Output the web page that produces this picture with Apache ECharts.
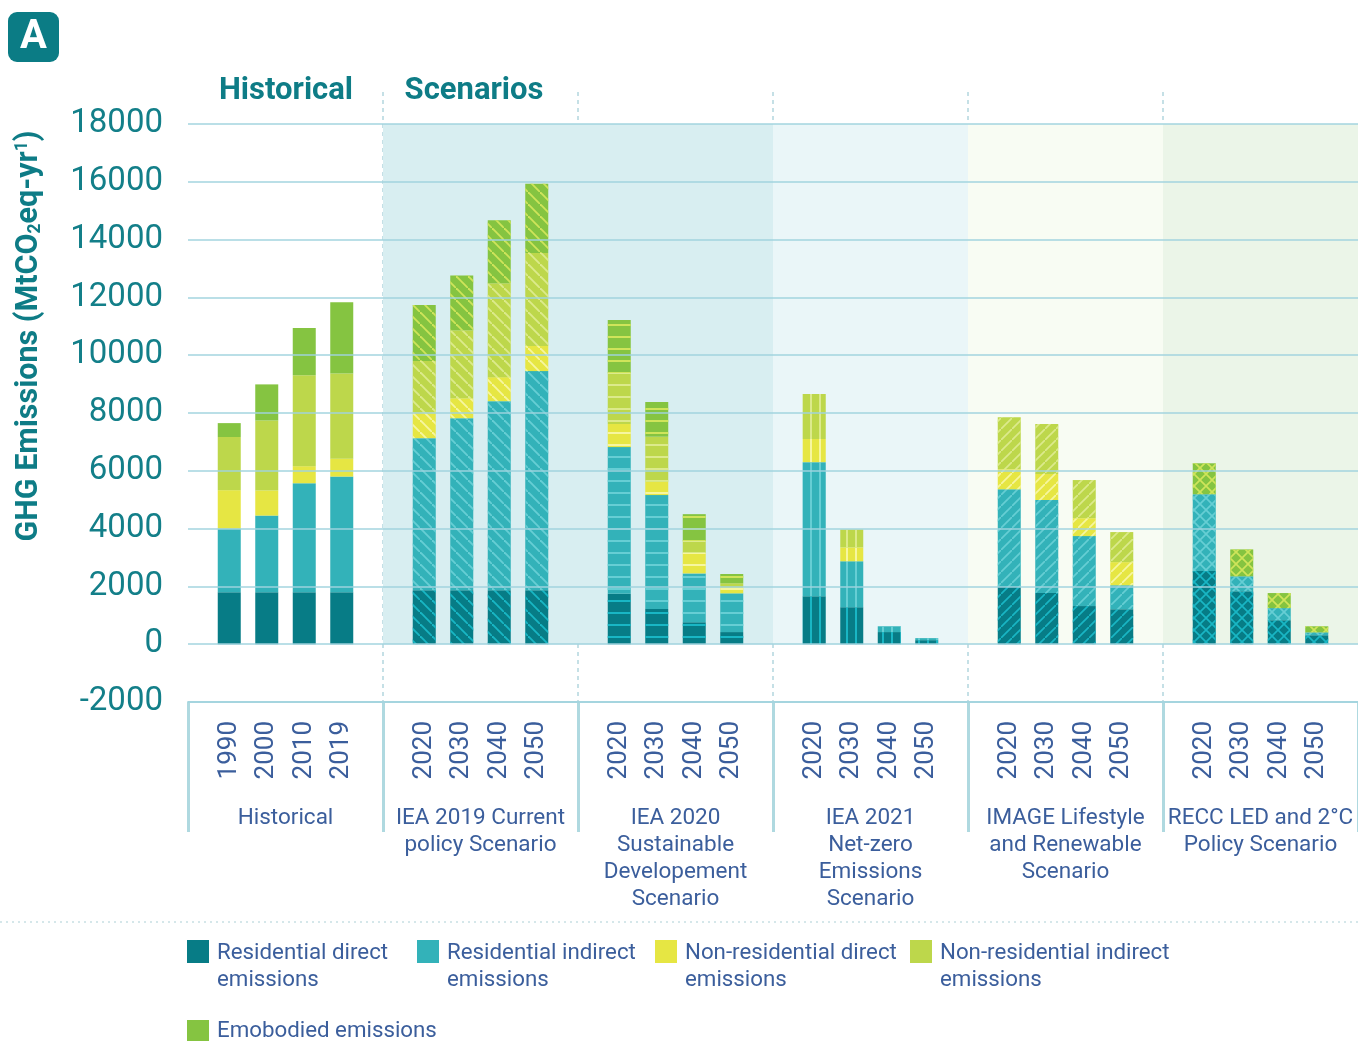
<!DOCTYPE html>
<html><head><meta charset="utf-8">
<script src="https://cdn.jsdelivr.net/npm/echarts@6/dist/echarts.min.js"></script>
<style>html,body{margin:0;padding:0;background:#fff}#c{width:1358px;height:1041px}</style>
</head><body><div id="c"></div>
<script>
// ---------------- DATA ----------------
const groupNames = ['Historical', 'IEA 2019 Current\npolicy Scenario', 'IEA 2020\nSustainable\nDevelopement\nScenario',
  'IEA 2021\nNet-zero\nEmissions\nScenario', 'IMAGE Lifestyle\nand Renewable\nScenario', 'RECC LED and 2°C\nPolicy Scenario'];
const yearsHistorical = ['1990', '2000', '2010', '2019'];
const yearsScenario = ['2020', '2030', '2040', '2050'];
const seriesNames = ['Residential direct emissions', 'Residential indirect emissions', 'Non-residential direct emissions',
  'Non-residential indirect emissions', 'Emobodied emissions'];
const legendLabels = ['Residential direct\nemissions', 'Residential indirect\nemissions', 'Non-residential direct\nemissions',
  'Non-residential indirect\nemissions', 'Emobodied emissions'];

// values per group (Historical, IEA2019, IEA2020, IEA2021, IMAGE, RECC), 4 years each
const residentialDirect = [
  [1800, 1800, 1800, 1800], [1870, 1870, 1870, 1870], [1750, 1220, 760, 420],
  [1660, 1280, 420, 140], [1980, 1770, 1320, 1210], [2530, 1830, 830, 310]];
const residentialIndirect = [
  [2200, 2650, 3770, 4000], [5260, 5950, 6540, 7580], [5070, 3940, 1690, 1340],
  [4640, 1590, 200, 70], [3380, 3220, 2420, 830], [2660, 520, 420, 100]];
const nonResidentialDirect = [
  [1330, 870, 590, 620], [900, 690, 830, 870], [800, 460, 710, 210],
  [800, 480, 0, 0], [690, 900, 620, 800], [0, 0, 0, 0]];
const nonResidentialIndirect = [
  [1840, 2420, 3150, 2950], [1770, 2350, 3250, 3220], [1760, 1560, 410, 140],
  [1560, 620, 0, 0], [1800, 1730, 1320, 1040], [0, 0, 0, 0]];
const embodied = [
  [480, 1250, 1630, 2460], [1940, 1900, 2180, 2390], [1840, 1200, 930, 320],
  [0, 0, 0, 0], [0, 0, 0, 0], [1070, 930, 520, 210]];

// ---------------- STYLE ----------------
const allSeries = [residentialDirect, residentialIndirect, nonResidentialDirect, nonResidentialIndirect, embodied];
const colors = ['#077c86', '#33b2b9', '#e6e643', '#bdd74b', '#85c441'];
const decalColors = ['#19b6c4', '#66ced4', '#f6f6a0', '#dcea8c', '#cfe45a'];
const bandColors = [null, '#d8eef1', '#d8eef1', '#eaf6f8', '#f8fcf3', '#ebf5e8'];
const textBlue = '#3b5e9c';
const teal = '#0e7c86';
const FONT = 'Roboto';

const Y_MIN = -2000, Y_MAX = 18000;
const GRID_LEFT = 188, GRID_TOP = 124, GRID_H = 578, GROUP_W = 195;

function decalFor(g, color) {
  if (g === 0) return null;
  if (g === 1) return { // "\" stripes
    symbol: 'path://M0,0L1.3,0L12,10.7L12,12L10.7,12L0,1.3Z', symbolSize: 1, symbolKeepAspect: false,
    dashArrayX: [12, 0], dashArrayY: [12, 0], rotation: 0, color };
  if (g === 2) return { symbol: 'rect', symbolSize: 1, dashArrayX: [1, 0], dashArrayY: [1.5, 9.2], rotation: 0, color };
  if (g === 3) return { symbol: 'rect', symbolSize: 1, dashArrayX: [1.5, 6.2], dashArrayY: [1, 0], rotation: 0, color };
  if (g === 4) return { // "/" stripes
    symbol: 'path://M10.7,0L12,0L12,1.3L1.3,12L0,12L0,10.7Z', symbolSize: 1, symbolKeepAspect: false,
    dashArrayX: [11, 0], dashArrayY: [11, 0], rotation: 0, color };
  return {
    symbol: 'path://M0,0L1.2,0L12,10.8L12,12L10.8,12L0,1.2Z M10.8,0L12,0L12,1.2L1.2,12L0,12L0,10.8Z',
    symbolSize: 1, symbolKeepAspect: false, dashArrayX: [12, 0], dashArrayY: [12, 0], rotation: 0, color
  };
}

const grids = [{ left: GRID_LEFT, width: GROUP_W * 6, top: GRID_TOP, height: GRID_H }];
const xAxes = [
  { type: 'category', gridIndex: 0, data: groupNames, boundaryGap: true,
    axisLine: { show: true, onZero: false, lineStyle: { color: '#b5dce3', width: 2 } },
    axisTick: { show: true, length: 130, alignWithLabel: false, lineStyle: { color: '#afd9e0', width: 3 } },
    axisLabel: { margin: 103, fontFamily: FONT, fontSize: 22.5, lineHeight: 27, color: textBlue, interval: 0, verticalAlign: 'top' },
    splitLine: { show: false } },
  { type: 'value', gridIndex: 0, min: 0, max: 6, show: false }
];
const yAxes = [
  { type: 'value', gridIndex: 0, min: Y_MIN, max: Y_MAX, interval: 2000, z: 10,
    axisLine: { show: false }, axisTick: { show: false },
    axisLabel: { margin: 25, fontFamily: FONT, fontSize: 33, color: '#137f89', formatter: v => String(v) },
    splitLine: { show: true, lineStyle: { color: 'rgba(160,210,222,0.72)', width: 2 } } }
];
const series = [{
  type: 'scatter', xAxisIndex: 1, yAxisIndex: 0, data: [[0, 0]], symbolSize: 0, z: 1, silent: true,
  markArea: { silent: true, data: bandColors.map((c, i) => c ? [
    { coord: [i, 0], itemStyle: { color: c } }, { coord: [i + 1, 18000] }] : null).filter(Boolean) }
}];

for (let g = 0; g < 6; g++) {
  grids.push({ left: GRID_LEFT + GROUP_W * g + 22.5, width: 150, top: GRID_TOP, height: GRID_H });
  xAxes.push({ type: 'category', gridIndex: g + 1, data: g === 0 ? yearsHistorical : yearsScenario,
    axisLine: { show: false, onZero: false }, axisTick: { show: false },
    axisLabel: { rotate: 90, margin: 19, fontFamily: FONT, fontSize: 26, color: textBlue, interval: 0 } });
  yAxes.push({ type: 'value', gridIndex: g + 1, min: Y_MIN, max: Y_MAX, show: false, splitLine: { show: false } });
  for (let s = 0; s < 5; s++) {
    const d = decalFor(g, decalColors[s]);
    const item = { color: colors[s] };
    if (d) item.decal = d;
    series.push({
      type: 'bar', name: seriesNames[s], xAxisIndex: g + 2, yAxisIndex: g + 1,
      stack: 'grp' + g, barWidth: 23, data: allSeries[s][g], itemStyle: item
    });
  }
}
// dashed separators grid
grids.push({ left: GRID_LEFT, width: GROUP_W * 6, top: 92, height: 610 });
xAxes.push({ type: 'value', gridIndex: 7, min: 0, max: 6, interval: 1,
  axisLine: { show: false }, axisTick: { show: false }, axisLabel: { show: false },
  splitLine: { show: true, showMinLine: false, showMaxLine: false, lineStyle: { color: '#b3d6de', width: 1.5, type: [4, 4] } } });
yAxes.push({ type: 'value', gridIndex: 7, min: 0, max: 1, show: false, splitLine: { show: false } });

const legendPos = [[187, 940], [417, 940], [655, 940], [910, 940], [187, 1018]];
const legends = seriesNames.map((n, i) => {
  const two = legendLabels[i].indexOf('\n') >= 0;
  return {
    left: legendPos[i][0], top: legendPos[i][1], data: [n], selectedMode: false,
    icon: two ? 'path://M0,0L22,0L22,23L0,23Z M0,53.9L0.1,54L0,54Z' : 'rect',
    itemWidth: 22, itemHeight: two ? 54 : 23, padding: 0,
    formatter: () => legendLabels[i],
    textStyle: { fontFamily: FONT, fontSize: 22.3, lineHeight: 27, color: textBlue, padding: [0, 0, 0, 3] }
  };
});

const option = {
  animation: false,
  grid: grids, xAxis: xAxes, yAxis: yAxes, series, legend: legends,
  graphic: [
    { type: 'rect', shape: { x: 8, y: 12, width: 51, height: 50, r: 9 }, style: { fill: '#0b7c85' } },
    { type: 'text', x: 33.5, y: 38, style: { text: 'A', fill: '#fff', font: 'bold 40px Roboto', align: 'center', verticalAlign: 'middle' } },
    { type: 'text', x: 286, y: 91, style: { text: 'Historical', fill: teal, font: 'bold 31px Roboto', align: 'center', verticalAlign: 'middle' } },
    { type: 'text', x: 474, y: 91, style: { text: 'Scenarios', fill: teal, font: 'bold 31px Roboto', align: 'center', verticalAlign: 'middle' } },
    { type: 'text', x: 29, y: 336, rotation: Math.PI / 2,
      style: { text: '{b|GHG Emissions (MtCO}{s|2}{b|eq-yr}{p|1}{b|)}', align: 'center', verticalAlign: 'middle',
        rich: {
          b: { fontFamily: FONT, fontWeight: 'bold', fontSize: 30.5, fill: teal, color: teal },
          s: { fontFamily: FONT, fontWeight: 'bold', fontSize: 17.5, fill: teal, color: teal, padding: [13, 0, 0, 0] },
          p: { fontFamily: FONT, fontWeight: 'bold', fontSize: 17.5, fill: teal, color: teal, padding: [0, 0, 13, 0] }
        } } },
    { type: 'line', shape: { x1: 0, y1: 922, x2: 1358, y2: 922 }, style: { stroke: '#c8dfe4', lineWidth: 1.5, lineDash: [2, 4] } }
  ]
};
const chart = echarts.init(document.getElementById('c'), null, { renderer: 'canvas' });
chart.setOption(option);
</script></body></html>
